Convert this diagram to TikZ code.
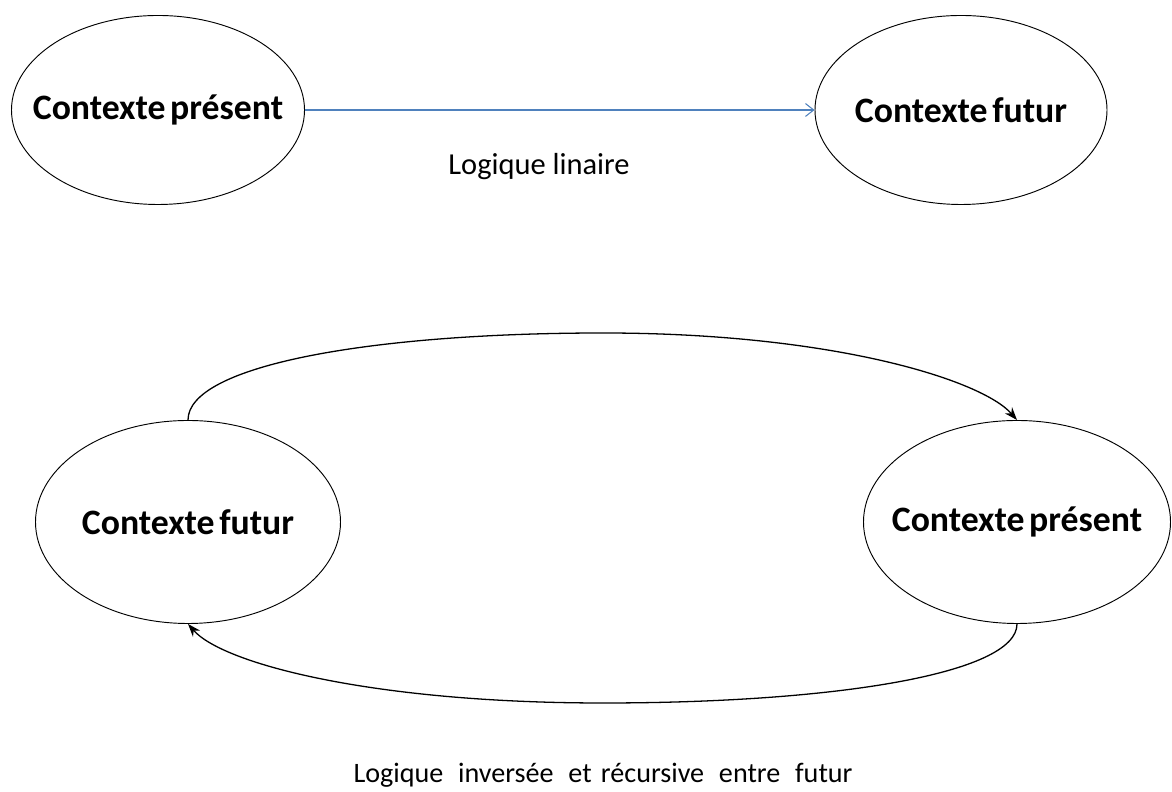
\documentclass[tikz,border=0pt]{standalone}
\usepackage{fontspec}
\setmainfont{Carlito}
\usepackage{xcolor}
\usepackage{tikz}
\usetikzlibrary{shapes.geometric,arrows.meta,positioning,calc}
\definecolor{lienbleu}{RGB}{79,129,189}
\newcommand{\ctxtexte}[1]{\makebox[0pt]{\fontdimen2\font=0.13em #1}}

\begin{document}
\begin{tikzpicture}[x=0.03cm,y=0.03cm,
	contexte/.style={draw,ellipse,line width=0.8pt,inner sep=0pt,font=\bfseries\fontsize{30.5}{33}\selectfont},
	lien/.style={line width=1.1pt,-{Stealth[length=11pt,width=8pt]}},
	legende/.style={font=\fontsize{26}{28}\selectfont}]
	\useasboundingbox (0,0) rectangle (1172,792);
	% logique linaire
	\node[contexte,minimum width=8.79cm,minimum height=5.67cm] (present) at (158,682) {\ctxtexte{Contexte présent}};
	\node[contexte,minimum width=8.76cm,minimum height=5.67cm] (futur) at (961,682) {\ctxtexte{Contexte futur}};
	\draw[lienbleu,line width=0.9pt,-{Straight Barb[length=7pt,width=11pt]}] (present) -- (futur);
	\node[legende] (lineaire) at (539,625) {Logique linaire};
	% logique inversee
	\node[contexte,minimum width=9.15cm,minimum height=6.09cm] (futurbis) at (188,270) {\ctxtexte{Contexte futur}};
	\node[contexte,minimum width=9.21cm,minimum height=6.09cm] (presentbis) at (1017,270) {\ctxtexte{Contexte présent}};
	\coordinate (haut) at (603,459);
	\coordinate (bas) at (603,89);
	\draw[lien] (futurbis.north) .. controls +(0,55) and +(-230,0) .. (haut)
		.. controls +(230,0) and +(-35,40) .. (presentbis.north);
	\draw[lien] (presentbis.south) .. controls +(0,-50) and +(230,0) .. (bas)
		.. controls +(-230,0) and +(35,-40) .. (futurbis.south);
	\node[legende,font=\fontsize{24}{26}\selectfont,inner sep=0pt] (recursive) at (603,17)
		{Logique\hspace{0.3em} inversée\hspace{0.3em} et\hspace{0.1em} récursive\hspace{0.3em} entre\hspace{0.3em} futur};
\end{tikzpicture}
\end{document}
